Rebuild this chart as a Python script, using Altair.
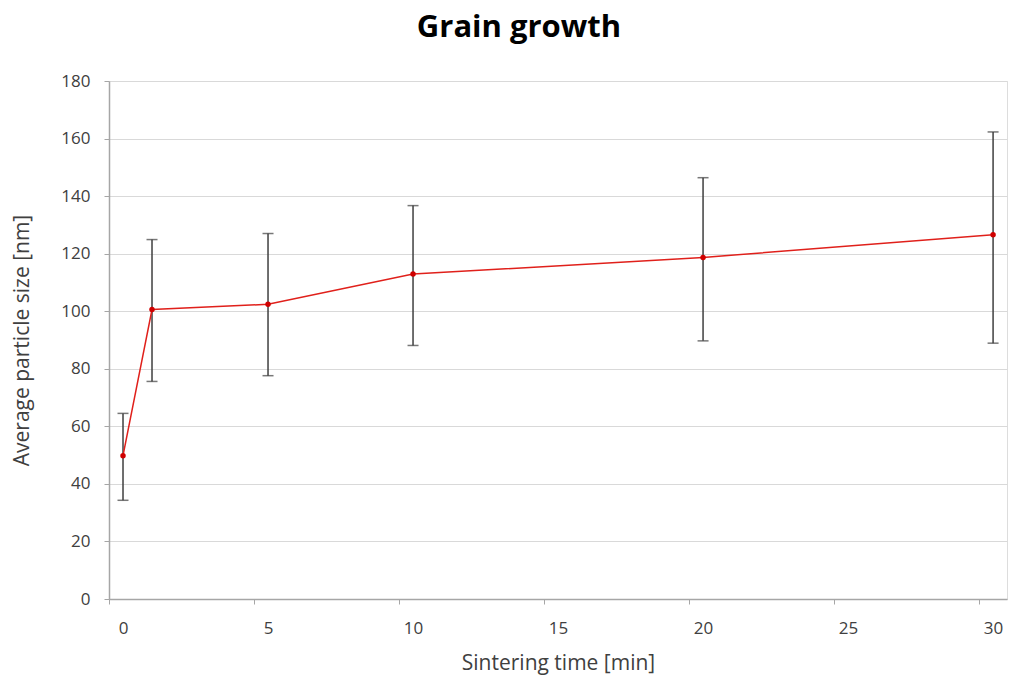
import altair as alt
import pandas as pd

time_min = [0, 1, 5, 10, 20, 30]
size_nm = [49.8, 100.6, 102.4, 112.9, 118.7, 126.6]
err_low = [34.3, 75.6, 77.6, 88.1, 89.7, 88.9]
err_high = [64.5, 124.9, 127.0, 136.7, 146.4, 162.3]

x_ticks = [0, 5, 10, 15, 20, 25, 30]
y_ticks = [0, 20, 40, 60, 80, 100, 120, 140, 160, 180]

df = pd.DataFrame({"t": time_min, "s": size_nm, "lo": err_low, "hi": err_high})

FONT = "Open Sans"
LBL = "#404040"

xscale = alt.Scale(domain=[-0.483, 30.48], nice=False, zero=False)
yscale = alt.Scale(domain=[0, 180], nice=False)

xaxis = alt.Axis(values=x_ticks, title="Sintering time [min]", grid=False,
                 tickOffset=-14, labelOffset=14, tickSize=5, tickColor="#a6a6a6",
                 domainColor="#a6a6a6", domainWidth=1.5, labelFont=FONT, labelFontSize=17,
                 labelColor=LBL, labelPadding=16, titleFont=FONT, titleFontSize=21,
                 titleFontWeight="normal", titleColor=LBL, titlePadding=16,
                 labelFlush=False)
yaxis = alt.Axis(values=y_ticks, title="Average particle size [nm]", grid=True,
                 gridColor="#d9d9d9", gridWidth=1.2, tickSize=5, tickColor="#a6a6a6",
                 domainColor="#a6a6a6", domainWidth=1.5, labelFont=FONT, labelFontSize=17,
                 labelColor=LBL, labelPadding=14, titleFont=FONT, titleFontSize=21,
                 titleFontWeight="normal", titleColor=LBL, titlePadding=28)

base = alt.Chart(df)

bars = base.mark_rule(color="#3f3f3f", strokeWidth=1.5).encode(
    x=alt.X("t:Q", scale=xscale, axis=xaxis),
    y=alt.Y("lo:Q", scale=yscale, axis=yaxis),
    y2="hi:Q",
)
caps_lo = base.mark_tick(color="#3f3f3f", orient="horizontal", size=11, thickness=1.5).encode(
    x=alt.X("t:Q", scale=xscale), y=alt.Y("lo:Q", scale=yscale))
caps_hi = base.mark_tick(color="#3f3f3f", orient="horizontal", size=11, thickness=1.5).encode(
    x=alt.X("t:Q", scale=xscale), y=alt.Y("hi:Q", scale=yscale))
line = base.mark_line(color="#e0201b", strokeWidth=1.5).encode(
    x=alt.X("t:Q", scale=xscale), y=alt.Y("s:Q", scale=yscale))
pts = base.mark_point(color="#d00000", filled=True, size=30, opacity=1).encode(
    x=alt.X("t:Q", scale=xscale), y=alt.Y("s:Q", scale=yscale))

chart = alt.layer(bars, caps_lo, caps_hi, line, pts).properties(
    width=898, height=518,
    title=alt.TitleParams("Grain growth", font=FONT, fontSize=31, fontWeight="bold",
                          color="#000000", anchor="middle", dx=-39, offset=28),
    autosize=alt.AutoSizeParams(type="none"),
    padding={"left": 109, "top": 81, "right": 4, "bottom": 81},
).configure_view(stroke="transparent", strokeWidth=0).configure(background="white")

chart.save("out.html", embed_options={"renderer": "svg", "actions": False})
